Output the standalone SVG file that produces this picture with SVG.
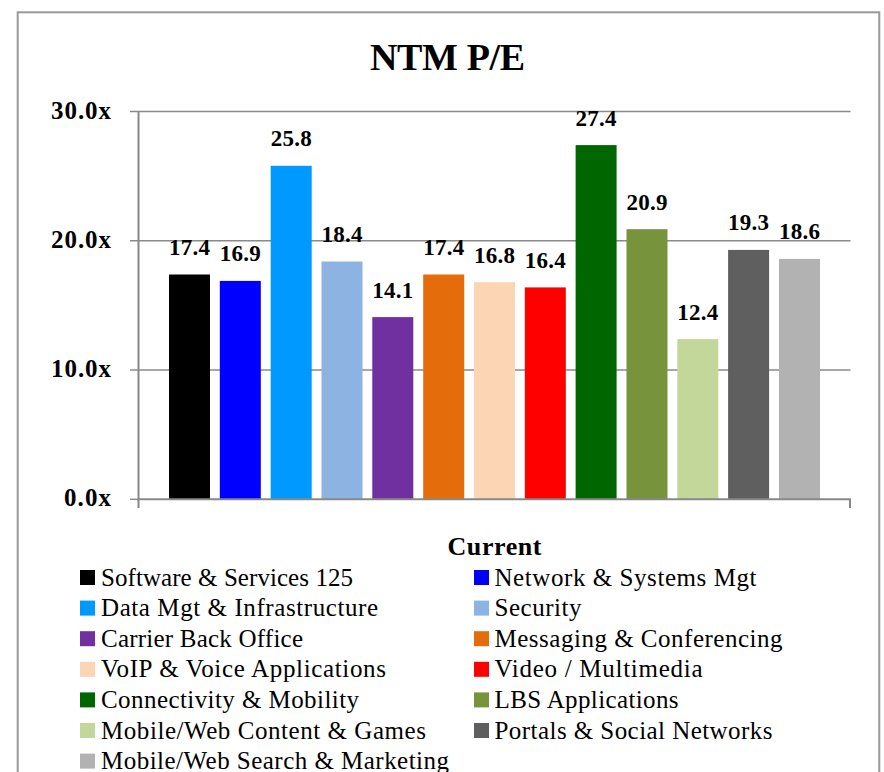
<svg xmlns="http://www.w3.org/2000/svg" width="884" height="772" viewBox="0 0 884 772">
<style>
.frame{fill:#ffffff;stroke:#999999;stroke-width:2}
.grid{stroke:#8a8a8a;stroke-width:1.5;fill:none}
.axis{stroke:#888888;stroke-width:2;fill:none}
.title{font-family:"Liberation Serif","Times New Roman",serif;font-weight:bold;font-size:38px;fill:#000}
.ylab{font-family:"Liberation Serif","Times New Roman",serif;font-weight:bold;font-size:25px;fill:#000;text-anchor:end}
.dlab{font-family:"Liberation Serif","Times New Roman",serif;font-weight:bold;font-size:23px;fill:#000;text-anchor:middle}
.leg{font-family:"Liberation Serif","Times New Roman",serif;font-size:25px;fill:#000}
.legt{font-family:"Liberation Serif","Times New Roman",serif;font-weight:bold;font-size:26px;fill:#000;text-anchor:middle}
</style>
<rect class="frame" x="17.7" y="12.3" width="861.6" height="800"/>
<text class="title" x="447.5" y="70" text-anchor="middle" textLength="155">NTM P/E</text>
<g id="axes">
<line class="grid" x1="130" y1="111.5" x2="850.5" y2="111.5"/>
<line class="grid" x1="130" y1="240.7" x2="850.5" y2="240.7"/>
<line class="grid" x1="130" y1="370" x2="850.5" y2="370"/>
<line class="grid" x1="130" y1="499.3" x2="139" y2="499.3"/>
<line class="axis" x1="138.5" y1="111" x2="138.5" y2="508"/>
<text class="ylab" x="111" y="119.3" textLength="60">30.0x</text>
<text class="ylab" x="111" y="247.7" textLength="60">20.0x</text>
<text class="ylab" x="111" y="377.3" textLength="60">10.0x</text>
<text class="ylab" x="111" y="506.3" textLength="47">0.0x</text>
</g>
<g id="bars">
<g id="bar-software"><rect x="169" y="274.5" width="41" height="225" fill="#000000"/><text class="dlab" x="189.5" y="255" textLength="41">17.4</text></g>
<g id="bar-network"><rect x="219.8" y="280.9" width="41" height="218.6" fill="#0000FF"/><text class="dlab" x="240.3" y="261.4" textLength="41">16.9</text></g>
<g id="bar-data"><rect x="270.7" y="165.8" width="41" height="333.7" fill="#0099FF"/><text class="dlab" x="291.2" y="146" textLength="41">25.8</text></g>
<g id="bar-security"><rect x="321.5" y="261.5" width="41" height="238" fill="#8DB3E2"/><text class="dlab" x="342" y="242" textLength="41">18.4</text></g>
<g id="bar-carrier"><rect x="372.3" y="317.1" width="41" height="182.4" fill="#7030A0"/><text class="dlab" x="392.8" y="297.6" textLength="41">14.1</text></g>
<g id="bar-messaging"><rect x="423.2" y="274.5" width="41" height="225" fill="#E46C0A"/><text class="dlab" x="443.7" y="255" textLength="41">17.4</text></g>
<g id="bar-voip"><rect x="474" y="282.2" width="41" height="217.3" fill="#FCD5B5"/><text class="dlab" x="494.5" y="262.7" textLength="41">16.8</text></g>
<g id="bar-video"><rect x="524.8" y="287.4" width="41" height="212.1" fill="#FF0000"/><text class="dlab" x="545.3" y="267.9" textLength="41">16.4</text></g>
<g id="bar-connectivity"><rect x="575.6" y="145.1" width="41" height="354.4" fill="#006600"/><text class="dlab" x="596.1" y="125.8" textLength="41">27.4</text></g>
<g id="bar-lbs"><rect x="626.5" y="229.2" width="41" height="270.3" fill="#77933C"/><text class="dlab" x="647" y="209.7" textLength="41">20.9</text></g>
<g id="bar-content"><rect x="677.3" y="339.1" width="41" height="160.4" fill="#C4D79B"/><text class="dlab" x="697.8" y="319.6" textLength="41">12.4</text></g>
<g id="bar-portals"><rect x="728.1" y="249.9" width="41" height="249.6" fill="#5F5F5F"/><text class="dlab" x="748.6" y="230.4" textLength="41">19.3</text></g>
<g id="bar-search"><rect x="779" y="258.9" width="41" height="240.6" fill="#B2B2B2"/><text class="dlab" x="799.5" y="239.4" textLength="41">18.6</text></g>
</g>
<g id="xaxis">
<line class="axis" x1="137.5" y1="499.3" x2="851" y2="499.3"/>
<line class="axis" x1="850" y1="499" x2="850" y2="508"/>
</g>
<g id="legend">
<text class="legt" x="494.5" y="555" textLength="94">Current</text>
<g><rect x="80" y="570" width="15" height="15" fill="#000000"/><text class="leg" x="101" y="585.5" textLength="252">Software &amp; Services 125</text></g>
<g><rect x="474" y="570" width="15" height="15" fill="#0000FF"/><text class="leg" x="494.5" y="585.5" textLength="262">Network &amp; Systems Mgt</text></g>
<g><rect x="80" y="600.6" width="15" height="15" fill="#0099FF"/><text class="leg" x="101" y="616.1" textLength="277">Data Mgt &amp; Infrastructure</text></g>
<g><rect x="474" y="600.6" width="15" height="15" fill="#8DB3E2"/><text class="leg" x="494.5" y="616.1" textLength="87">Security</text></g>
<g><rect x="80" y="631.2" width="15" height="15" fill="#7030A0"/><text class="leg" x="101" y="646.7" textLength="202">Carrier Back Office</text></g>
<g><rect x="474" y="631.2" width="15" height="15" fill="#E46C0A"/><text class="leg" x="494.5" y="646.7" textLength="288">Messaging &amp; Conferencing</text></g>
<g><rect x="80" y="661.8" width="15" height="15" fill="#FCD5B5"/><text class="leg" x="101" y="677.3" textLength="285">VoIP &amp; Voice Applications</text></g>
<g><rect x="474" y="661.8" width="15" height="15" fill="#FF0000"/><text class="leg" x="494.5" y="677.3" textLength="208">Video / Multimedia</text></g>
<g><rect x="80" y="692.4" width="15" height="15" fill="#006600"/><text class="leg" x="101" y="707.9" textLength="258">Connectivity &amp; Mobility</text></g>
<g><rect x="474" y="692.4" width="15" height="15" fill="#77933C"/><text class="leg" x="494.5" y="707.9" textLength="184">LBS Applications</text></g>
<g><rect x="80" y="723" width="15" height="15" fill="#C4D79B"/><text class="leg" x="101" y="738.5" textLength="325">Mobile/Web Content &amp; Games</text></g>
<g><rect x="474" y="723" width="15" height="15" fill="#5F5F5F"/><text class="leg" x="494.5" y="738.5" textLength="278">Portals &amp; Social Networks</text></g>
<g><rect x="80" y="753.6" width="15" height="15" fill="#B2B2B2"/><text class="leg" x="101" y="769.1" textLength="348">Mobile/Web Search &amp; Marketing</text></g>
</g>
</svg>
